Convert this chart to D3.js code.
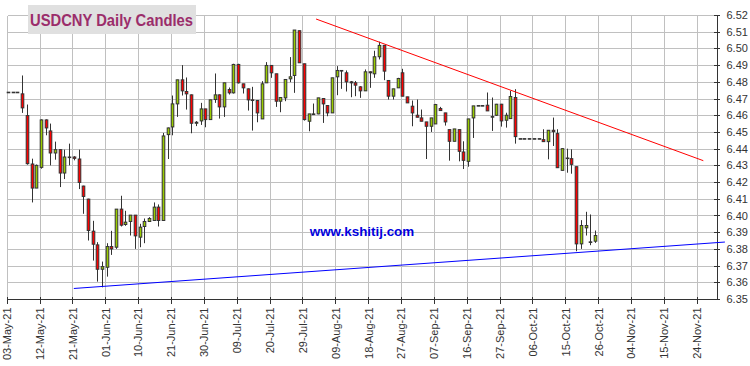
<!DOCTYPE html>
<html><head><meta charset="utf-8">
<script src="https://cdn.jsdelivr.net/npm/d3@7"></script>
<style>body{margin:0;background:#fff}svg{display:block}</style>
</head><body>
<svg id="c" width="750" height="366"></svg>
<script>
// ---- data ----
const tickLabels = ["03-May-21","12-May-21","21-May-21","01-Jun-21","10-Jun-21","21-Jun-21","30-Jun-21","09-Jul-21","20-Jul-21","29-Jul-21","09-Aug-21","18-Aug-21","27-Aug-21","07-Sep-21","16-Sep-21","27-Sep-21","06-Oct-21","15-Oct-21","26-Oct-21","04-Nov-21","15-Nov-21","24-Nov-21"];
const yTickValues = [6.35,6.36,6.37,6.38,6.39,6.40,6.41,6.42,6.43,6.44,6.45,6.46,6.47,6.48,6.49,6.50,6.51,6.52];

const openV = [6.4738,6.4738,6.4738,6.4728,6.4598,6.4308,6.4164,6.4288,6.4572,6.4506,
6.4374,6.4394,6.4254,6.4350,6.4350,6.4338,6.4176,6.4098,6.3906,6.3824,
6.3678,6.3690,6.3814,6.3810,6.4038,6.3946,6.3964,6.4002,6.3870,6.3934,
6.3964,6.3970,6.4050,6.3970,6.4484,6.4530,6.4668,6.4812,6.4742,6.4722,
6.4552,6.4566,6.4638,6.4574,6.4694,6.4722,6.4650,6.4754,6.4734,6.4904,
6.4788,6.4758,6.4692,6.4688,6.4578,6.4794,6.4898,6.4848,6.4684,6.4704,
6.4818,6.4838,6.5106,6.4908,6.4564,6.4604,6.4608,6.4700,6.4658,6.4614,
6.4830,6.4868,6.4854,6.4800,6.4794,6.4770,6.4746,6.4860,6.4848,6.4950,
6.5018,6.4808,6.4714,6.4764,6.4854,6.4710,6.4654,6.4600,6.4584,6.4560,
6.4534,6.4548,6.4640,6.4614,6.4514,6.4444,6.4514,6.4380,6.4324,6.4584,
6.4658,6.4658,6.4660,6.4592,6.4600,6.4666,6.4570,6.4580,6.4706,6.4460,
6.4460,6.4460,6.4460,6.4460,6.4454,6.4442,6.4510,6.4490,6.4270,6.4344,
6.4340,6.4292,6.3830,6.3926,6.3842,6.3846];
const highV = [6.4738,6.4738,6.4738,6.4838,6.4664,6.4340,6.4305,6.4575,6.4575,6.4550,
6.4442,6.4396,6.4394,6.4430,6.4355,6.4394,6.4178,6.4100,6.3968,6.3840,
6.3724,6.3834,6.3908,6.4038,6.4118,6.4028,6.4002,6.4002,6.3950,6.3982,
6.3990,6.4078,6.4066,6.4494,6.4526,6.4718,6.4812,6.4900,6.4826,6.4724,
6.4565,6.4674,6.4638,6.4692,6.4850,6.4724,6.4794,6.4766,6.4908,6.4908,
6.4788,6.4760,6.4770,6.4690,6.4804,6.4918,6.4898,6.4848,6.4706,6.4814,
6.4948,6.5110,6.5106,6.4908,6.4608,6.4670,6.4704,6.4702,6.4658,6.4824,
6.4894,6.4870,6.4868,6.4805,6.4805,6.4774,6.4874,6.4862,6.4986,6.5040,
6.5018,6.4808,6.4758,6.4824,6.4878,6.4710,6.4688,6.4694,6.4634,6.4560,
6.4584,6.4668,6.4650,6.4614,6.4514,6.4518,6.4514,6.4444,6.4578,6.4656,
6.4658,6.4658,6.4736,6.4706,6.4668,6.4668,6.4615,6.4746,6.4756,6.4460,
6.4460,6.4460,6.4460,6.4460,6.4516,6.4510,6.4586,6.4516,6.4402,6.4400,
6.4396,6.4292,6.3972,6.4022,6.4006,6.3910];
const lowV = [6.4738,6.4738,6.4738,6.4614,6.4304,6.4078,6.4164,6.4280,6.4480,6.4300,
6.4334,6.4170,6.4218,6.4300,6.4330,6.4158,6.4010,6.3850,6.3730,6.3604,
6.3570,6.3634,6.3764,6.3800,6.3934,6.3938,6.3880,6.3800,6.3810,6.3834,
6.3962,6.3970,6.3934,6.3970,6.4338,6.4480,6.4590,6.4718,6.4634,6.4492,
6.4535,6.4542,6.4528,6.4574,6.4674,6.4580,6.4590,6.4724,6.4730,6.4790,
6.4730,6.4628,6.4508,6.4558,6.4578,6.4794,6.4824,6.4650,6.4618,6.4684,
6.4798,6.4734,6.4914,6.4568,6.4504,6.4604,6.4606,6.4554,6.4594,6.4614,
6.4720,6.4758,6.4742,6.4708,6.4714,6.4704,6.4746,6.4764,6.4824,6.4934,
6.4810,6.4694,6.4694,6.4764,6.4714,6.4674,6.4534,6.4588,6.4564,6.4338,
6.4500,6.4548,6.4628,6.4538,6.4328,6.4444,6.4324,6.4278,6.4292,6.4464,
6.4658,6.4658,6.4626,6.4506,6.4596,6.4532,6.4526,6.4580,6.4430,6.4460,
6.4460,6.4460,6.4460,6.4460,6.4440,6.4336,6.4416,6.4284,6.4270,6.4256,
6.4250,6.3786,6.3800,6.3880,6.3822,6.3836];
const closeV = [6.4738,6.4738,6.4738,6.4644,6.4310,6.4164,6.4300,6.4572,6.4524,6.4374,
6.4394,6.4254,6.4350,6.4350,6.4342,6.4198,6.4114,6.3910,6.3828,6.3678,
6.3694,6.3814,6.3800,6.4038,6.3942,6.3960,6.4002,6.3878,6.3930,6.3964,
6.3982,6.4050,6.3970,6.4476,6.4524,6.4668,6.4812,6.4746,6.4728,6.4552,
6.4558,6.4638,6.4574,6.4692,6.4722,6.4650,6.4794,6.4734,6.4904,6.4794,
6.4764,6.4692,6.4688,6.4614,6.4788,6.4898,6.4854,6.4684,6.4706,6.4814,
6.4830,6.5110,6.4914,6.4574,6.4608,6.4608,6.4704,6.4668,6.4614,6.4824,
6.4868,6.4868,6.4800,6.4794,6.4780,6.4746,6.4860,6.4854,6.4950,6.5018,
6.4864,6.4714,6.4758,6.4820,6.4714,6.4674,6.4614,6.4588,6.4564,6.4534,
6.4584,6.4664,6.4628,6.4560,6.4444,6.4518,6.4384,6.4330,6.4578,6.4656,
6.4658,6.4658,6.4626,6.4592,6.4666,6.4566,6.4600,6.4712,6.4472,6.4460,
6.4460,6.4460,6.4460,6.4460,6.4442,6.4510,6.4502,6.4286,6.4400,6.4342,
6.4306,6.3830,6.3940,6.3940,6.3842,6.3880];

// trend lines: [trading-day index, value]
const resistanceIdx = [65.9, 148.4];
const resistanceVal = [6.5176, 6.4328];
const supportIdx = [14.3, 153.0];
const supportVal = [6.3563, 6.3841];

// ---- chart ----
const svg = d3.select("#c");
const x = d3.scaleLinear().domain([0, 151.1]).range([6.7, 716]);
const y = d3.scaleLinear().domain([6.35, 6.52]).range([299, 15]);
const xTickValues = tickLabels.map((d, i) => i * 7);
const gridColor = "#c0c0c0";
const crisp = v => Math.round(v) + 0.5;

const grid = svg.append("g").attr("shape-rendering", "crispEdges");
grid.selectAll("line.h").data(yTickValues).join("line")
  .attr("x1", crisp(x(0))).attr("x2", crisp(x.range()[1]))
  .attr("y1", d => crisp(y(d))).attr("y2", d => crisp(y(d)))
  .attr("stroke", gridColor).attr("stroke-width", 1);
grid.selectAll("line.v").data(xTickValues).join("line")
  .attr("x1", d => crisp(x(d))).attr("x2", d => crisp(x(d)))
  .attr("y1", crisp(y(6.52))).attr("y2", crisp(y(6.35)))
  .attr("stroke", gridColor).attr("stroke-width", 1);

// title
svg.append("rect").attr("x", 28).attr("y", 5).attr("width", 168).attr("height", 29).attr("fill", "#e0e0e0");
svg.append("text").attr("x", 30).attr("y", 25.5)
  .attr("font-family", "Liberation Sans, Arial, sans-serif").attr("font-weight", "bold")
  .attr("font-size", 16.5).attr("fill", "#9b2d6b")
  .attr("textLength", 163).attr("lengthAdjust", "spacingAndGlyphs")
  .text("USDCNY Daily Candles");

// watermark
svg.append("text").attr("x", 362).attr("y", 235.5).attr("text-anchor", "middle")
  .attr("font-family", "Liberation Sans, Arial, sans-serif").attr("font-weight", "bold")
  .attr("font-size", 13.4).attr("fill", "#0000dd").text("www.kshitij.com");

// axes
const axisColor = "#333";
const yAxis = svg.append("g").attr("transform", `translate(${crisp(716)},0)`)
  .call(d3.axisRight(y).tickValues(yTickValues).tickFormat(d3.format(".2f")).tickSizeOuter(0).tickSizeInner(3).tickPadding(7));
yAxis.selectAll("line").attr("x1", -3).attr("x2", 3);
yAxis.attr("shape-rendering", "crispEdges");
yAxis.selectAll("path, line").attr("stroke", axisColor);
yAxis.selectAll("text").attr("font-family", "Liberation Sans, Arial, sans-serif").attr("font-size", 11).attr("fill", axisColor).attr("shape-rendering", null);

const xAxis = svg.append("g").attr("transform", `translate(0,${crisp(299)})`)
  .call(d3.axisBottom(x).tickValues(xTickValues).tickFormat((d, i) => tickLabels[i]).tickSizeOuter(0).tickSizeInner(4));
xAxis.select(".domain").attr("d", `M${crisp(x(0))},0H${crisp(716)}`);
xAxis.selectAll("line").attr("y1", -3).attr("y2", 4);
xAxis.attr("shape-rendering", "crispEdges");
xAxis.selectAll("path, line").attr("stroke", axisColor);
xAxis.selectAll("text")
  .attr("font-family", "Liberation Sans, Arial, sans-serif").attr("font-size", 11).attr("fill", axisColor)
  .attr("text-anchor", "end").attr("transform", "translate(0,8) rotate(-90)")
  .attr("x", 0).attr("y", 0).attr("dy", "0.35em");

// candles
const candles = openV.map((o, i) => ({i, o, h: highV[i], l: lowV[i], c: closeV[i]}));
const cg = svg.append("g");
const off = 0.3, bw = 2.6;
cg.selectAll("line.w").data(candles).join("line")
  .attr("x1", d => Math.round(x(d.i + off)) + 0.5).attr("x2", d => Math.round(x(d.i + off)) + 0.5)
  .attr("y1", d => y(d.h)).attr("y2", d => y(d.l))
  .attr("stroke", "#333").attr("stroke-width", 1);
cg.selectAll("rect").data(candles).join("rect")
  .attr("x", d => Math.round(x(d.i + off)) + 0.5 - bw / 2)
  .attr("width", bw)
  .attr("y", d => y(Math.max(d.o, d.c)))
  .attr("height", d => Math.max(0.6, Math.abs(y(d.o) - y(d.c))))
  .attr("fill", d => d.c > d.o ? "#99cc00" : (d.c < d.o ? "#ff0000" : "#333"))
  .attr("stroke", "#333").attr("stroke-width", 1);

// trend lines
svg.append("line")
  .attr("x1", x(resistanceIdx[0])).attr("y1", y(resistanceVal[0]))
  .attr("x2", x(resistanceIdx[1])).attr("y2", y(resistanceVal[1]))
  .attr("stroke", "#ff0000").attr("stroke-width", 1);
svg.append("line")
  .attr("x1", x(supportIdx[0])).attr("y1", y(supportVal[0]))
  .attr("x2", x(supportIdx[1])).attr("y2", y(supportVal[1]))
  .attr("stroke", "#0000ff").attr("stroke-width", 1);
</script>
</body></html>
